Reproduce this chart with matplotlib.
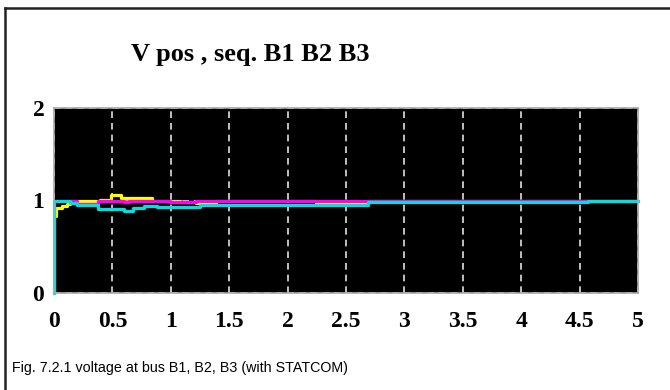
import matplotlib
matplotlib.use("Agg")
import matplotlib.pyplot as plt
from matplotlib.lines import Line2D

# step breakpoints (time in s) and per-unit voltages
t_b1 = [0, 0, 0.02, 0.07, 0.11, 0.14, 0.39, 0.49, 0.57, 0.84, 0.99, 1.08, 1.22, 1.39, 2.24, 2.69, 5.0]
v_b1 = [0, 0.83, 0.92, 0.94, 0.96, 0.99, 1.01, 1.06, 1.03, 1.0, 1.0, 0.985, 0.975, 1.0, 0.975, 1.0, 1.0]

t_b2 = [0, 0, 0.14, 0.2, 0.38, 0.6, 0.64, 0.99, 1.22, 5.0]
v_b2 = [0, 1.0, 0.99, 0.965, 1.0, 0.985, 1.0, 0.985, 1.0, 1.0]

t_b3 = [0, 0, 0.137, 0.2, 0.38, 0.6, 0.68, 0.77, 0.88, 1.25, 2.69, 4.57, 5.0]
v_b3 = [0, 1.0, 0.97, 0.95, 0.91, 0.89, 0.915, 0.945, 0.925, 0.95, 0.98, 1.0, 1.0]

x_ticks = [0, 0.5, 1, 1.5, 2, 2.5, 3, 3.5, 4, 4.5, 5]
x_labels = ['0', '0.5', '1', '1.5', '2', '2.5', '3', '3.5', '4', '4.5', '5']
y_ticks = [0, 1, 2]

serif = ['Liberation Serif', 'DejaVu Serif']

fig = plt.figure(figsize=(6.7, 3.9), dpi=100)
ax = fig.add_axes([54 / 670, 97 / 390, 584 / 670, 185 / 390])
ax.set_facecolor('black')

ax.plot(t_b1, v_b1, drawstyle='steps-post', color='#ffff00', lw=2.3)
ax.plot(t_b2, v_b2, drawstyle='steps-post', color='#ff00ff', lw=2.3)
ax.plot(t_b3, v_b3, drawstyle='steps-post', color='#00e0e0', lw=2.3, clip_on=False)

ax.set_xlim(0, 5)
ax.set_ylim(0, 2)
ax.set_xticks(x_ticks)
ax.set_xticklabels(x_labels)
ax.set_yticks(y_ticks)
ax.grid(True, color='#e0e0e0', linestyle=(0, (4, 3)), lw=1.2)
ax.set_axisbelow(True)
ax.tick_params(length=0, labelsize=17)
ax.tick_params(axis='x', pad=13)
ax.tick_params(axis='y', pad=7)
for lab in ax.get_xticklabels() + ax.get_yticklabels():
    lab.set_family(serif)
    lab.set_fontweight('bold')
for s in ax.spines.values():
    s.set_color('#a8a8a8')
    s.set_linewidth(1.2)

fig.text(250 / 670, 1 - 55 / 390, 'V pos , seq. B1 B2 B3', family=serif,
         fontweight='bold', fontsize=19, ha='center', va='center')
fig.text(12 / 670, 1 - 368 / 390, 'Fig. 7.2.1 voltage at bus B1, B2, B3 (with STATCOM)',
         family=['Liberation Sans', 'DejaVu Sans'], fontsize=10.3, va='center')

# outer frame of the figure box (top and left edges visible)
fig.add_artist(Line2D([5 / 670, 5 / 670], [0, 1 - 8 / 390], color='#222222', lw=1.8))
fig.add_artist(Line2D([5 / 670, 1], [1 - 8 / 390, 1 - 8 / 390], color='#222222', lw=1.8))

fig.savefig('out.png', dpi=100)
